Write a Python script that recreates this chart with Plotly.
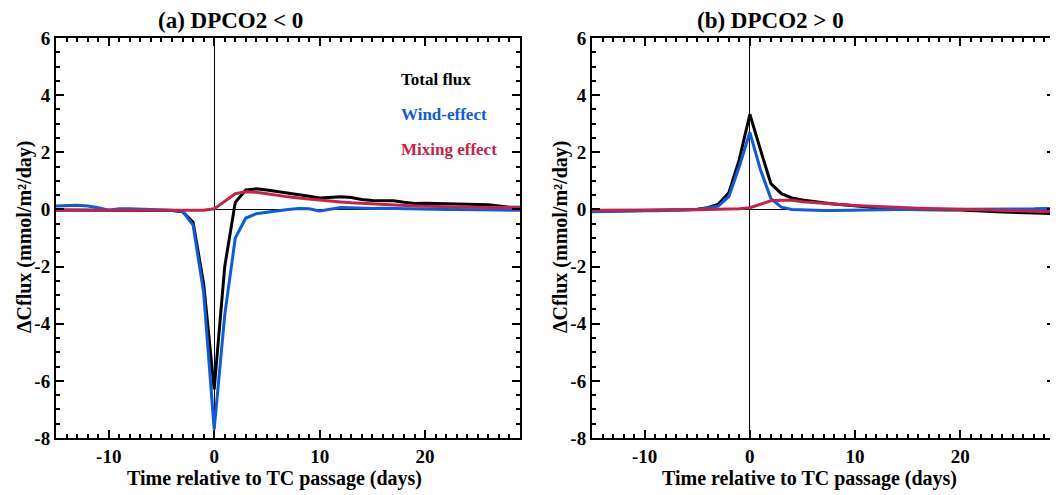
import plotly.graph_objects as go

days = list(range(-15, 30))

# Panel (a) DPCO2 < 0
total_a = [-0.02, -0.02, -0.02, -0.02, -0.03, -0.04, -0.02, -0.02, -0.02, -0.03,
           -0.03, -0.04, -0.08, -0.45, -2.6, -6.3, -2.0, 0.25, 0.68, 0.72,
           0.68, 0.63, 0.57, 0.52, 0.46, 0.40, 0.42, 0.44, 0.42, 0.35,
           0.31, 0.31, 0.30, 0.25, 0.21, 0.22, 0.22, 0.20, 0.19, 0.18,
           0.17, 0.16, 0.12, 0.08, 0.08]
wind_a = [0.12, 0.14, 0.15, 0.12, 0.06, -0.03, 0.02, 0.02, 0.01, 0.00,
          -0.01, -0.03, -0.07, -0.55, -2.9, -7.7, -3.7, -1.0, -0.30, -0.15,
          -0.10, -0.04, 0.00, 0.03, 0.02, -0.05, 0.00, 0.07, 0.06, 0.04,
          0.03, 0.04, 0.03, 0.03, 0.02, 0.02, 0.01, 0.00, 0.00, 0.00,
          -0.01, -0.01, -0.02, -0.03, -0.03]
mix_a = [-0.03, -0.03, -0.03, -0.03, -0.03, -0.03, -0.03, -0.03, -0.03, -0.03,
         -0.03, -0.03, -0.03, -0.03, -0.03, 0.02, 0.30, 0.55, 0.62, 0.60,
         0.55, 0.49, 0.44, 0.40, 0.36, 0.32, 0.29, 0.26, 0.23, 0.21,
         0.18, 0.16, 0.14, 0.13, 0.12, 0.11, 0.10, 0.09, 0.09, 0.08,
         0.08, 0.07, 0.07, 0.07, 0.07]

# Panel (b) DPCO2 > 0
total_b = [-0.06, -0.06, -0.05, -0.05, -0.04, -0.04, -0.03, -0.03, -0.02, -0.01,
           0.01, 0.06, 0.18, 0.58, 1.75, 3.33, 2.1, 0.90, 0.55, 0.40,
           0.33, 0.27, 0.23, 0.19, 0.15, 0.12, 0.09, 0.06, 0.03, 0.01,
           0.00, -0.01, -0.01, -0.02, -0.02, -0.02, -0.03, -0.05, -0.07, -0.09,
           -0.10, -0.11, -0.12, -0.14, -0.15]
wind_b = [-0.08, -0.07, -0.07, -0.06, -0.06, -0.05, -0.05, -0.04, -0.03, -0.02,
          0.00, 0.05, 0.12, 0.45, 1.5, 2.7, 1.4, 0.38, 0.08, 0.00,
          -0.02, -0.03, -0.04, -0.04, -0.03, -0.02, -0.02, -0.01, -0.01, 0.00,
          0.00, 0.00, 0.00, 0.00, 0.00, 0.00, 0.00, 0.01, 0.01, 0.01,
          0.02, 0.02, 0.02, 0.03, 0.03]
mix_b = [-0.03, -0.03, -0.03, -0.03, -0.03, -0.02, -0.02, -0.02, -0.02, -0.01,
         -0.01, 0.00, 0.00, 0.01, 0.02, 0.06, 0.17, 0.30, 0.32, 0.32,
         0.27, 0.24, 0.21, 0.18, 0.16, 0.14, 0.12, 0.10, 0.08, 0.06,
         0.05, 0.04, 0.03, 0.02, 0.01, 0.00, 0.00, -0.01, -0.02, -0.03,
         -0.04, -0.05, -0.06, -0.07, -0.08]

x_ticks = [-10, 0, 10, 20]
x_labels = ["-10", "0", "10", "20"]
y_ticks = [-8, -6, -4, -2, 0, 2, 4, 6]
y_labels = ["-8", "-6", "-4", "-2", "0", "2", "4", "6"]

BLACK = "#000000"
BLUE = "#0D5CDC"
RED = "#C8224A"
FONT = "Liberation Serif"

W, H = 1058, 495
OFF = 8  # page body margin in the screenshot

def px(v):
    return (v - OFF) / W

def py(v):
    return 1 - (v - OFF) / H

fig = go.Figure()
for xa, ya, series in [("x", "y", (total_a, wind_a, mix_a)),
                       ("x2", "y2", (total_b, wind_b, mix_b))]:
    for vals, col, name in zip(series, (BLACK, BLUE, RED),
                               ("Total flux", "Wind-effect", "Mixing effect")):
        fig.add_trace(go.Scatter(x=days, y=vals, mode="lines", name=name,
                                 line=dict(color=col, width=3),
                                 xaxis=xa, yaxis=ya, showlegend=False))

axis_common = dict(showline=True, linecolor="black", linewidth=2, mirror="allticks",
                   ticks="inside", ticklen=8, tickwidth=2, tickcolor="black",
                   showgrid=False, zeroline=True, zerolinecolor="black", zerolinewidth=1,
                   automargin=False,
                   tickfont=dict(family=FONT, size=19, color="black", weight="bold"))

xminor = dict(dtick=1, tick0=0, ticks="inside", ticklen=4, tickwidth=1.5, tickcolor="black")
yminor = dict(dtick=0.5, tick0=0, ticks="inside", ticklen=4, tickwidth=1.5, tickcolor="black")

fig.update_layout(
    template="simple_white",
    width=W, height=H,
    margin=dict(l=0, r=0, t=0, b=0, autoexpand=False),
    paper_bgcolor="white", plot_bgcolor="white",
    xaxis=dict(domain=[px(56), px(520)], range=[-15, 29], tickvals=x_ticks, ticktext=x_labels,
               minor=xminor, anchor="y", **axis_common),
    yaxis=dict(domain=[py(438), py(38)], range=[-8, 6], tickvals=y_ticks, ticktext=y_labels,
               minor=yminor, anchor="x", **axis_common),
    xaxis2=dict(domain=[px(592), px(1055)], range=[-15, 29], tickvals=x_ticks, ticktext=x_labels,
                minor=xminor, anchor="y2", **axis_common),
    yaxis2=dict(domain=[py(438), py(38)], range=[-8, 6], tickvals=y_ticks, ticktext=y_labels,
                minor=yminor, anchor="x2", **axis_common),
)

title_font = dict(family=FONT, size=23, color="black", weight="bold")
for txt, xc in [("(a) DPCO2 < 0", 230), ("(b) DPCO2 > 0", 770)]:
    fig.add_annotation(text=txt, x=px(xc), y=py(20), xref="paper", yref="paper",
                       showarrow=False, font=title_font, xanchor="center", yanchor="middle")

axtitle_font = dict(family=FONT, size=20, color="black", weight="bold")
for xc in (274, 809):
    fig.add_annotation(text="Time relative to TC passage (days)", x=px(xc), y=py(478),
                       xref="paper", yref="paper", showarrow=False, font=axtitle_font,
                       xanchor="center", yanchor="middle")
for xc in (24, 560):
    fig.add_annotation(text="ΔCflux (mmol/m²/day)", x=px(xc), y=py(237), textangle=-90,
                       xref="paper", yref="paper", showarrow=False, font=axtitle_font,
                       xanchor="center", yanchor="middle")

leg_font = dict(family=FONT, size=17, weight="bold")
for txt, col, ypix in [("Total flux", BLACK, 79), ("Wind-effect", BLUE, 114),
                       ("Mixing effect", RED, 149)]:
    fig.add_annotation(text=txt, x=px(399), y=py(ypix), xref="paper", yref="paper",
                       showarrow=False, xanchor="left", yanchor="middle",
                       font=dict(color=col, **leg_font))

fig.write_html("out.html")
